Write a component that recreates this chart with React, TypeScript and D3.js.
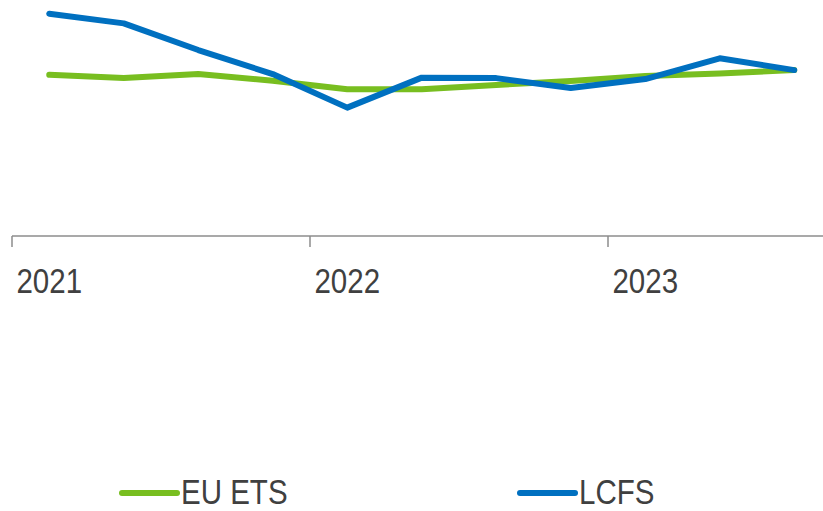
import React, { useRef, useEffect } from 'react';
import * as d3 from 'd3';

const quarters = ['2021Q1', '2021Q2', '2021Q3', '2021Q4', '2022Q1', '2022Q2', '2022Q3', '2022Q4', '2023Q1', '2023Q2', '2023Q3'];
const euEts = [68.3, 66.9, 68.6, 65.8, 62.2, 62.2, 64.0, 65.7, 67.8, 68.9, 70.3];
const lcfs = [94.2, 90.1, 78.8, 68.6, 54.4, 67.1, 66.9, 62.7, 66.5, 75.3, 70.3];
const yearLabels = ['2021', '2022', '2023'];

const seriesList = [
  { name: 'EU ETS', values: euEts, color: '#78BE20' },
  { name: 'LCFS', values: lcfs, color: '#0070C0' },
];

const FONT = '"Liberation Sans", Arial, sans-serif';
// no narrow font installed, so squeeze the glyphs horizontally
const SQUEEZE = 0.82;

const App = () => {
  const svgRef = useRef<SVGSVGElement>(null);
  const width = 823;
  const height = 511;

  useEffect(() => {
    if (!svgRef.current) return;
    const svg = d3.select(svgRef.current);
    svg.selectAll('*').remove();

    // quarters as bands, years start every 4th band
    const x = d3.scaleBand<string>()
      .domain(quarters)
      .range([12, 12 + quarters.length * 74.5]);

    const y = d3.scaleLinear()
      .domain([0, 100])
      .range([236, 0]);

    const axisY = 236;

    const addText = (sel: any, tx: number, ty: number, anchor: string, label: string) => {
      sel.append('g')
        .attr('transform', `translate(${tx}, ${ty}) scale(${SQUEEZE}, 1)`)
        .append('text')
        .attr('text-anchor', anchor)
        .style('font-family', FONT)
        .style('font-size', '36px')
        .attr('fill', '#404040')
        .text(label);
    };

    // axis line
    svg.append('line')
      .attr('x1', x.range()[0])
      .attr('x2', width)
      .attr('y1', axisY)
      .attr('y2', axisY)
      .attr('stroke', '#8c8c8c')
      .attr('stroke-width', 1.5);

    // year ticks + labels
    yearLabels.forEach(yr => {
      const x0 = x(`${yr}Q1`)!;
      svg.append('line')
        .attr('x1', x0)
        .attr('x2', x0)
        .attr('y1', axisY)
        .attr('y2', axisY + 11)
        .attr('stroke', '#8c8c8c')
        .attr('stroke-width', 1.5);
      addText(svg, x0 + x.bandwidth() / 2, 293, 'middle', yr);
    });

    const line = d3.line<number>()
      .x((_, i) => x(quarters[i])! + x.bandwidth() / 2)
      .y(d => y(d));

    seriesList.forEach(s => {
      svg.append('path')
        .datum(s.values)
        .attr('fill', 'none')
        .attr('stroke', s.color)
        .attr('stroke-width', 6)
        .attr('stroke-linejoin', 'round')
        .attr('stroke-linecap', 'round')
        .attr('d', line);
    });

    // legend
    const legendX = [122, 520];
    seriesList.forEach((s, i) => {
      const g = svg.append('g').attr('transform', `translate(${legendX[i]}, 493)`);
      g.append('line')
        .attr('x1', 0)
        .attr('x2', 55)
        .attr('y1', 0)
        .attr('y2', 0)
        .attr('stroke', s.color)
        .attr('stroke-width', 6)
        .attr('stroke-linecap', 'round');
      addText(g, 59, 11, 'start', s.name);
    });
  }, []);

  return (
    <svg
      ref={svgRef}
      width={width}
      height={height}
      style={{ position: 'absolute', left: 0, top: 0, background: '#fff' }}
    />
  );
};

export default App;
